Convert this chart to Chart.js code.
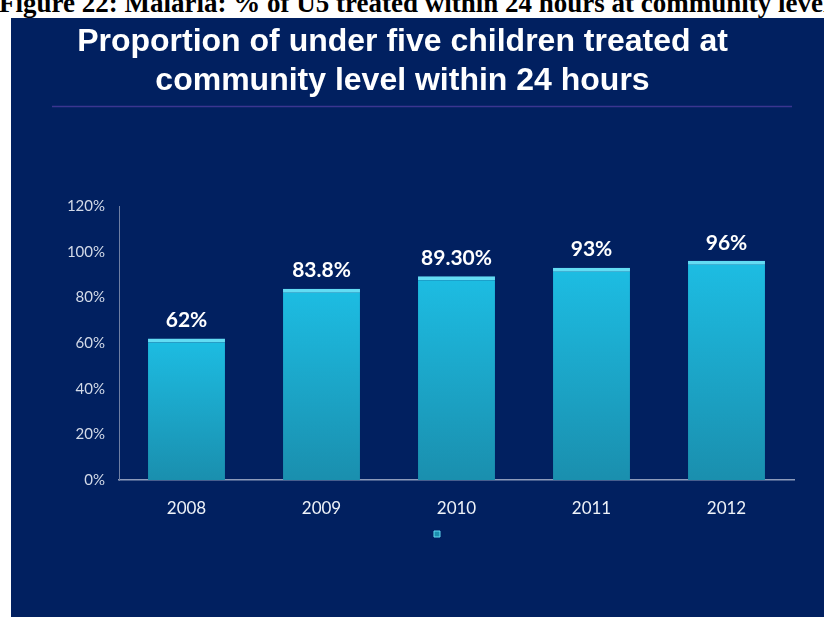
<!DOCTYPE html>
<html>
<head>
<meta charset="utf-8">
<script src="https://cdn.jsdelivr.net/npm/chart.js@4.4.1/dist/chart.umd.min.js"></script>
<style>
    body { margin: 0; background: #ffffff; width: 824px; height: 617px; overflow: hidden; position: relative; }
    #caption {
        position: absolute; left: -1px; top: -12px; white-space: nowrap;
        font-family: "Liberation Serif", "Times New Roman", serif; font-weight: bold; font-size: 27px;
        color: #000;
    }
    #panel { position: absolute; left: 11px; top: 18px; width: 813px; height: 599px; background: #012060; }
</style>
</head>
<body>
<div id="caption">Figure 22: Malaria: % of U5 treated within 24 hours at community level</div>
<div id="panel"><canvas id="graficoMalaria" width="813" height="599"></canvas></div>
<script>
// Datos del gráfico
const anios = ['2008', '2009', '2010', '2011', '2012'];
const porcentajes = [62, 83.8, 89.3, 93, 96];
const etiquetasValores = ['62%', '83.8%', '89.30%', '93%', '96%'];
const ticksEje = [0, 20, 40, 60, 80, 100, 120];
// La serie no tiene nombre visible en la leyenda
const nombreSerie = '\u2003\u2003\u2003\u2002';

// Plugin para la línea bajo el título y las etiquetas de valores
const pluginExtras = {
    id: 'extras',
    beforeDraw(chart) {
        const ctx = chart.ctx;
        ctx.save();
        ctx.strokeStyle = '#3b3590';
        ctx.lineWidth = 1.5;
        ctx.beginPath();
        ctx.moveTo(41, 88.5);
        ctx.lineTo(781, 88.5);
        ctx.stroke();
        ctx.restore();
    },
    afterDatasetsDraw(chart) {
        const ctx = chart.ctx;
        const meta = chart.getDatasetMeta(0);
        ctx.save();
        ctx.fillStyle = '#ffffff';
        ctx.font = 'bold 21px Lato';
        ctx.textAlign = 'center';
        ctx.textBaseline = 'middle';
        meta.data.forEach((barra, i) => {
            ctx.fillText(etiquetasValores[i], barra.x, barra.y - 18);
        });
        ctx.restore();
    }
};

const ctxMalaria = document.getElementById('graficoMalaria');
new Chart(ctxMalaria, {
    type: 'bar',
    data: {
        labels: anios,
        datasets: [{
            label: nombreSerie,
            data: porcentajes,
            backgroundColor: (context) => {
                const chart = context.chart;
                const area = chart.chartArea;
                if (!area || context.parsed === undefined) return '#1bb6dc';
                const yTop = chart.scales.y.getPixelForValue(context.parsed.y);
                const grad = chart.ctx.createLinearGradient(0, yTop, 0, area.bottom);
                grad.addColorStop(0, '#1dbde3');
                grad.addColorStop(1, '#1a8fae');
                return grad;
            },
            borderColor: '#63dcf3',
            borderWidth: { top: 4, left: 0, right: 0, bottom: 0 },
            borderSkipped: 'bottom',
            categoryPercentage: 1,
            barPercentage: 0.57
        }]
    },
    options: {
        responsive: false,
        animation: false,
        layout: { padding: { left: 0, right: 30, top: 0, bottom: 67 } },
        plugins: {
            title: {
                display: true,
                text: ['Proportion of under five children treated at', 'community level within 24 hours'],
                color: '#ffffff',
                font: { family: 'Liberation Sans', size: 32, weight: 'bold', lineHeight: 1.22 },
                padding: { top: 5, bottom: 105 }
            },
            legend: {
                position: 'bottom',
                fullSize: false,
                labels: { boxWidth: 6, boxHeight: 6, padding: 0, color: '#ffffff', font: { family: 'Lato', size: 12 } }
            },
            tooltip: { enabled: false }
        },
        scales: {
            x: {
                afterFit: (escala) => { escala.height = 48; },
                grid: { display: false, drawTicks: false },
                border: { color: '#8d9bbb', width: 1.5 },
                ticks: { color: '#eef2f8', font: { family: 'Lato', size: 17 }, padding: 18 }
            },
            y: {
                min: 0,
                max: 120,
                afterFit: (escala) => { escala.width = 108; },
                afterBuildTicks: (escala) => { escala.ticks = ticksEje.map(v => ({ value: v })); },
                grid: { display: false, drawTicks: false },
                border: { color: '#6f7fa3', width: 1 },
                ticks: {
                    color: '#d3dae8',
                    font: { family: 'Lato', size: 15 },
                    padding: 14,
                    callback: (v) => v + '%'
                }
            }
        }
    },
    plugins: [pluginExtras]
});
</script>
</body>
</html>
